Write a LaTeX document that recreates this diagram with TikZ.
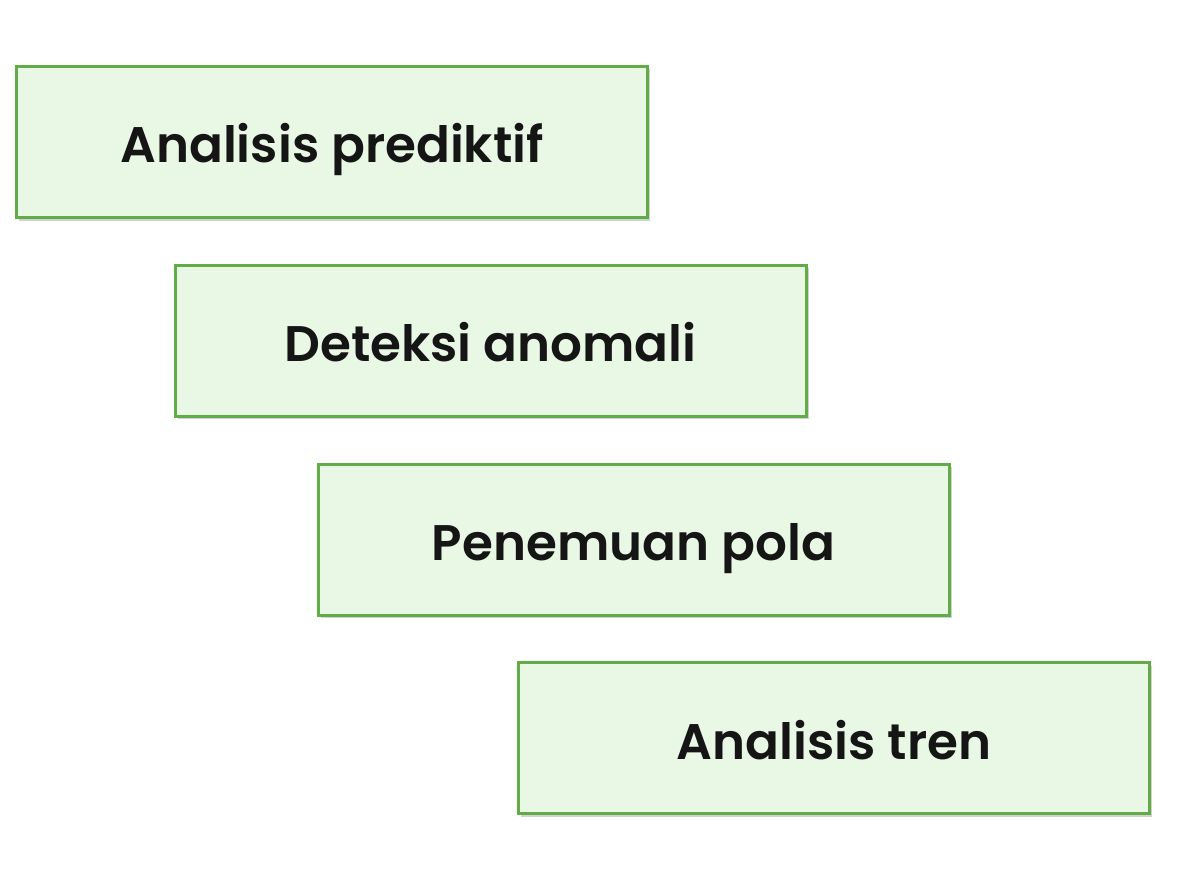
\documentclass[tikz,border=0pt]{standalone}
\usepackage{fontspec}
\setmainfont{Poppins}[BoldFont={Poppins SemiBold}]
\usetikzlibrary{shadows}
\definecolor{boxfill}{HTML}{E8F8E4}
\definecolor{boxline}{HTML}{62AC48}
\definecolor{txt}{HTML}{151515}
\begin{document}
\begin{tikzpicture}[x=1pt,y=-1pt,
  stepbox/.style={draw=boxline, line width=3pt, fill=boxfill, minimum width=631pt, minimum height=151pt, inner sep=0pt,
    text height=42pt, text depth=0pt,
    font=\fontsize{50}{56}\selectfont\bfseries, text=txt,
    drop shadow={shadow xshift=2.5pt, shadow yshift=-3pt, fill=black, opacity=0.18}}]
\useasboundingbox[fill=white] (0,0) rectangle (1193,896);
\node[stepbox] (a) at (332,142) {Analisis prediktif};
\node[stepbox] (b) at (490.5,340.5) {Deteksi anomali};
\node[stepbox] (c) at (633.5,539.5) {Penemuan pola};
\node[stepbox] (d) at (834,738) {Analisis tren};
\end{tikzpicture}
\end{document}
